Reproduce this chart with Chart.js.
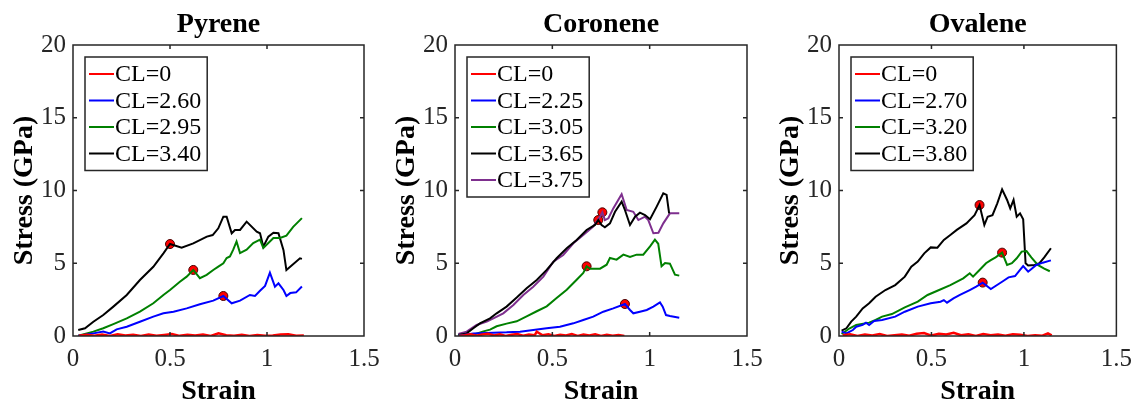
<!DOCTYPE html>
<html>
<head>
<meta charset="utf-8">
<script src="https://cdn.jsdelivr.net/npm/chart.js@4.4.1/dist/chart.umd.min.js"></script>
<style>
  html, body { margin: 0; padding: 0; background: #fff; overflow: hidden; }
  #wrap { position: relative; width: 1143px; height: 400px; }
  #wrap canvas { position: absolute; left: 0; top: 0; }
</style>
</head>
<body>
<div id="wrap">
  <canvas id="pyrene" width="1143" height="400"></canvas>
  <canvas id="coronene" width="1143" height="400"></canvas>
  <canvas id="ovalene" width="1143" height="400"></canvas>
</div>
<script>
// ---- Pyrene ----
const pyrCL0Strain = [0.03,0.07,0.11,0.15,0.19,0.23,0.27,0.31,0.35,0.39,0.43,0.47,0.51,0.55,0.59,0.63,0.67,0.71,0.75,0.79,0.83,0.87,0.91,0.95,0.99,1.03,1.07,1.11,1.15,1.19]
const pyrCL0Stress = [0.02,0.08,0.01,0.1,0.0,0.12,0.03,0.09,0.0,0.11,0.02,0.07,0.13,0.01,0.09,0.03,0.1,0.0,0.18,0.05,0.02,0.08,0.0,0.06,0.01,0.03,0.1,0.12,0.02,0.04]
const pyrCL260Strain = [0.027,0.105,0.156,0.19,0.225,0.277,0.345,0.414,0.466,0.518,0.586,0.654,0.723,0.775,0.818,0.861,0.912,0.938,0.964,0.99,1.015,1.041,1.059,1.085,1.10,1.12,1.15,1.18]
const pyrCL260Stress = [0.02,0.18,0.30,0.18,0.46,0.64,0.98,1.33,1.56,1.67,1.9,2.18,2.43,2.75,2.25,2.43,2.82,2.75,3.11,3.44,4.35,3.39,3.62,3.16,2.75,2.95,3.0,3.4]
const pyrCL295Strain = [0.027,0.105,0.156,0.208,0.277,0.345,0.414,0.466,0.5,0.551,0.586,0.62,0.654,0.689,0.723,0.749,0.775,0.792,0.809,0.826,0.843,0.861,0.895,0.929,0.964,0.981,1.007,1.033,1.067,1.10,1.135,1.18]
const pyrCL295Stress = [0.02,0.3,0.53,0.82,1.21,1.67,2.25,2.82,3.16,3.73,4.08,4.54,3.97,4.2,4.54,4.77,5.0,5.36,5.47,5.93,6.5,5.7,5.93,6.39,6.62,6.05,6.39,6.74,6.74,6.9,7.5,8.1]
const pyrCL340Strain = [0.027,0.062,0.105,0.156,0.208,0.277,0.345,0.414,0.466,0.5,0.56,0.62,0.69,0.72,0.749,0.775,0.792,0.818,0.835,0.861,0.895,0.947,0.964,0.981,1.007,1.033,1.059,1.085,1.10,1.17,1.18]
const pyrCL340Stress = [0.41,0.53,0.98,1.44,2.02,2.82,3.85,4.76,5.68,6.32,6.07,6.37,6.83,6.94,7.4,8.2,8.2,7.06,7.29,7.29,7.86,7.17,7.06,6.14,6.83,7.1,7.06,5.9,4.53,5.34,5.3]
const pyrMarkStrain = [0.5, 0.62, 0.775]
const pyrMarkStress = [6.32, 4.54, 2.75]

// ---- Coronene ----
const corCL0Strain = [0.02,0.05,0.08,0.11,0.14,0.17,0.2,0.23,0.26,0.29,0.32,0.35,0.38,0.41,0.42,0.45,0.48,0.51,0.54,0.57,0.6,0.63,0.66,0.69,0.72,0.75,0.78,0.81,0.84,0.87]
const corCL0Stress = [0.0,0.05,0.12,0.02,0.1,0.15,0.04,0.11,0.0,0.08,0.13,0.02,0.1,0.06,0.3,0.05,0.12,0.0,0.09,0.03,0.14,0.01,0.1,0.04,0.12,0.0,0.08,0.02,0.06,0.0]
const corCL225Strain = [0.017,0.094,0.197,0.265,0.334,0.402,0.471,0.539,0.608,0.659,0.71,0.762,0.813,0.873,0.899,0.916,0.95,0.985,1.019,1.053,1.067,1.084,1.104,1.152]
const corCL225Stress = [0.02,0.18,0.23,0.25,0.3,0.41,0.53,0.64,0.87,1.1,1.33,1.67,1.9,2.2,1.79,1.56,1.67,1.79,2.02,2.31,2.02,1.44,1.37,1.26]
const corCL305Strain = [0.017,0.094,0.146,0.18,0.214,0.265,0.317,0.368,0.42,0.471,0.522,0.574,0.625,0.659,0.676,0.693,0.745,0.779,0.796,0.83,0.865,0.899,0.933,0.967,1.002,1.027,1.044,1.061,1.079,1.104,1.13,1.152]
const corCL305Stress = [0.05,0.09,0.32,0.44,0.67,0.85,1.01,1.35,1.7,2.04,2.61,3.18,3.87,4.33,4.79,4.63,4.63,4.9,5.36,5.25,5.59,5.43,5.59,5.59,6.16,6.62,6.34,4.79,5.02,4.97,4.22,4.15]
const corCL365Strain = [0.017,0.06,0.094,0.128,0.18,0.214,0.265,0.317,0.368,0.42,0.471,0.522,0.574,0.625,0.676,0.719,0.736,0.753,0.77,0.796,0.822,0.856,0.873,0.899,0.925,0.95,0.976,1.002,1.036,1.07,1.087,1.10]
const corCL365Stress = [0.07,0.18,0.53,0.87,1.21,1.56,2.02,2.64,3.28,3.85,4.54,5.34,6.03,6.6,7.29,7.63,7.97,7.63,7.47,7.74,8.54,9.23,8.66,7.63,8.2,8.48,8.31,8.02,8.89,9.8,9.7,8.43]
const corCL375Strain = [0.017,0.06,0.111,0.163,0.197,0.248,0.3,0.351,0.402,0.454,0.505,0.556,0.608,0.659,0.71,0.745,0.757,0.77,0.788,0.813,0.856,0.882,0.916,0.942,0.976,0.993,1.019,1.045,1.07,1.104,1.152]
const corCL375Stress = [0.14,0.3,0.76,0.99,1.21,1.56,2.13,2.82,3.39,4.08,5.11,5.57,6.37,6.94,7.52,8.2,8.5,7.97,8.09,8.77,9.74,8.66,8.54,7.97,8.2,7.97,7.06,7.1,7.74,8.43,8.43]
const corMarkStrain = [0.736, 0.757, 0.676, 0.873]
const corMarkStress = [7.97, 8.5, 4.79, 2.2]

// ---- Ovalene ----
const ovaCL0Strain = [0.02,0.06,0.1,0.14,0.18,0.22,0.26,0.3,0.34,0.38,0.42,0.46,0.5,0.54,0.58,0.62,0.66,0.7,0.74,0.78,0.82,0.86,0.9,0.94,0.98,1.02,1.06,1.1,1.13,1.15]
const ovaCL0Stress = [0.05,0.12,0.0,0.1,0.03,0.13,0.0,0.06,0.11,0.02,0.16,0.2,0.03,0.15,0.1,0.22,0.05,0.12,0.0,0.14,0.06,0.1,0.02,0.12,0.08,0.0,0.05,0.02,0.18,0.04]
const ovaCL270Strain = [0.014,0.04,0.075,0.093,0.128,0.146,0.163,0.19,0.233,0.304,0.356,0.426,0.496,0.549,0.567,0.584,0.619,0.654,0.707,0.742,0.777,0.821,0.882,0.917,0.952,0.979,0.996,1.023,1.067,1.102,1.146]
const ovaCL270Stress = [0.3,0.18,0.41,0.64,0.76,0.92,0.76,1.03,1.1,1.33,1.67,2.02,2.25,2.36,2.47,2.29,2.59,2.82,3.16,3.39,3.67,3.23,3.73,4.03,4.12,4.54,4.81,4.42,4.88,5.04,5.2]
const ovaCL320Strain = [0.014,0.058,0.093,0.163,0.198,0.233,0.286,0.356,0.426,0.479,0.532,0.602,0.672,0.707,0.725,0.76,0.795,0.821,0.847,0.882,0.909,0.935,0.961,0.988,1.014,1.04,1.075,1.11,1.14]
const ovaCL320Stress = [0.14,0.53,0.76,0.92,1.1,1.33,1.51,1.97,2.36,2.82,3.11,3.5,3.96,4.31,4.08,4.54,5.0,5.22,5.41,5.73,4.88,5.0,5.34,5.8,5.84,5.41,4.88,4.63,4.45]
const ovaCL380Strain = [0.014,0.04,0.066,0.093,0.128,0.163,0.198,0.251,0.304,0.356,0.391,0.426,0.461,0.496,0.532,0.567,0.602,0.637,0.689,0.733,0.76,0.786,0.804,0.83,0.856,0.882,0.909,0.926,0.944,0.961,0.979,0.996,1.009,1.023,1.058,1.084,1.11,1.146]
const ovaCL380Stress = [0.37,0.53,0.99,1.33,1.9,2.25,2.7,3.16,3.5,4.08,4.77,5.11,5.68,6.09,6.07,6.6,6.94,7.29,7.74,8.31,9.0,7.63,8.2,8.31,9.12,10.08,9.35,8.77,9.35,8.2,8.43,8.02,5.0,4.84,4.88,5.0,5.4,6.03]
const ovaMarkStrain = [0.76, 0.882, 0.777]
const ovaMarkStress = [9.0, 5.73, 3.67]

const xTicks = [0, 0.5, 1, 1.5]
const yTicks = [0, 5, 10, 15, 20]

const RED = '#ff0000', BLUE = '#0000ff', GREEN = '#008000', BLACK = '#000000', PURPLE = '#7e2f8e'
const AXIS = '#262626'
const SERIF = '"Liberation Serif", "Times New Roman", serif'

const pts = (xs, ys) => xs.map((x, i) => ({ x: x, y: ys[i] }))

// box, inward ticks and the boxed legend (MATLAB look)
const frame = {
    id: 'frame',
    afterDatasetsDraw(chart) {
        const { ctx, chartArea: a, scales: { x, y } } = chart
        ctx.save()
        ctx.strokeStyle = AXIS
        ctx.lineWidth = 1.5
        ctx.beginPath()
        xTicks.slice(1, -1).forEach(v => {
            const px = x.getPixelForValue(v)
            ctx.moveTo(px, a.bottom); ctx.lineTo(px, a.bottom - 4)
            ctx.moveTo(px, a.top); ctx.lineTo(px, a.top + 4)
        })
        yTicks.slice(1, -1).forEach(v => {
            const py = y.getPixelForValue(v)
            ctx.moveTo(a.left, py); ctx.lineTo(a.left + 4, py)
            ctx.moveTo(a.right, py); ctx.lineTo(a.right - 4, py)
        })
        ctx.stroke()
        ctx.strokeRect(a.left, a.top, a.width, a.height)

        const items = chart.data.datasets.filter(d => d.label)
        ctx.font = '24px ' + SERIF
        const tw = Math.max(...items.map(d => ctx.measureText(d.label).width))
        const bx = a.left + 12, by = a.top + 12
        const bw = 31 + tw + 5, bh = 34 + 26.5 * (items.length - 1)
        ctx.fillStyle = '#fff'
        ctx.fillRect(bx, by, bw, bh)
        ctx.strokeStyle = AXIS
        ctx.strokeRect(bx, by, bw, bh)
        ctx.textBaseline = 'middle'
        ctx.textAlign = 'left'
        items.forEach((d, i) => {
            const cy = by + 17 + i * 26.5
            ctx.strokeStyle = d.borderColor
            ctx.lineWidth = 2
            ctx.beginPath()
            ctx.moveTo(bx + 4, cy); ctx.lineTo(bx + 29, cy)
            ctx.stroke()
            ctx.fillStyle = '#000'
            ctx.fillText(d.label, bx + 30, cy + 1)
        })
        ctx.restore()
    }
}

const makePanel = (id, title, plotLeft, plotRight, series, markX, markY) => {
    const datasets = series.map(s => ({
        label: s.label,
        data: pts(s.xs, s.ys),
        showLine: true,
        borderColor: s.color,
        backgroundColor: s.color,
        borderWidth: s.color === RED ? 2.5 : 2,
        pointRadius: 0,
        tension: 0
    }))
    datasets.push({
        label: '',
        data: pts(markX, markY),
        showLine: false,
        pointRadius: 4.5,
        pointBackgroundColor: RED,
        pointBorderColor: '#4a0000',
        pointBorderWidth: 1
    })

    new Chart(document.getElementById(id), {
        type: 'scatter',
        data: { datasets: datasets },
        options: {
            responsive: false,
            animation: false,
            devicePixelRatio: 1,
            layout: { padding: { left: plotLeft - 73, right: 1143 - plotRight, top: 0, bottom: 0 } },
            plugins: {
                legend: { display: false },
                tooltip: { enabled: false },
                title: {
                    display: true,
                    text: title,
                    fullSize: false,
                    color: '#000',
                    font: { family: SERIF, size: 28, weight: 'bold', lineHeight: 1 },
                    padding: { top: 11, bottom: 6 }
                }
            },
            scales: {
                x: {
                    type: 'linear',
                    min: 0,
                    max: 1.5,
                    grid: { display: false, drawTicks: false },
                    border: { display: false },
                    afterBuildTicks: s => { s.ticks = xTicks.map(v => ({ value: v })) },
                    ticks: {
                        color: AXIS, padding: 11, maxRotation: 0,
                        font: { family: SERIF, size: 25, lineHeight: 1 },
                        callback: v => String(v)
                    },
                    title: {
                        display: true,
                        text: 'Strain',
                        color: '#000',
                        font: { family: SERIF, size: 28, weight: 'bold', lineHeight: 1 },
                        padding: { top: 0, bottom: -6 }
                    },
                    afterFit: s => { s.height = 64 }
                },
                y: {
                    min: 0,
                    max: 20,
                    grid: { display: false, drawTicks: false },
                    border: { display: false },
                    afterBuildTicks: s => { s.ticks = yTicks.map(v => ({ value: v })) },
                    ticks: {
                        color: AXIS, padding: 7,
                        font: { family: SERIF, size: 25, lineHeight: 1 },
                        callback: v => String(v)
                    },
                    title: {
                        display: true,
                        text: 'Stress (GPa)',
                        color: '#000',
                        font: { family: SERIF, size: 28, weight: 'bold', lineHeight: 1 },
                        padding: { top: 11, bottom: 0 }
                    },
                    afterFit: s => { s.width = 73 }
                }
            }
        },
        plugins: [frame]
    })
}

makePanel('pyrene', 'Pyrene', 73, 364, [
    { label: 'CL=0', color: RED, xs: pyrCL0Strain, ys: pyrCL0Stress },
    { label: 'CL=2.60', color: BLUE, xs: pyrCL260Strain, ys: pyrCL260Stress },
    { label: 'CL=2.95', color: GREEN, xs: pyrCL295Strain, ys: pyrCL295Stress },
    { label: 'CL=3.40', color: BLACK, xs: pyrCL340Strain, ys: pyrCL340Stress }
], pyrMarkStrain, pyrMarkStress)

makePanel('coronene', 'Coronene', 455, 747, [
    { label: 'CL=0', color: RED, xs: corCL0Strain, ys: corCL0Stress },
    { label: 'CL=2.25', color: BLUE, xs: corCL225Strain, ys: corCL225Stress },
    { label: 'CL=3.05', color: GREEN, xs: corCL305Strain, ys: corCL305Stress },
    { label: 'CL=3.65', color: BLACK, xs: corCL365Strain, ys: corCL365Stress },
    { label: 'CL=3.75', color: PURPLE, xs: corCL375Strain, ys: corCL375Stress }
], corMarkStrain, corMarkStress)

makePanel('ovalene', 'Ovalene', 839, 1126, [
    { label: 'CL=0', color: RED, xs: ovaCL0Strain, ys: ovaCL0Stress },
    { label: 'CL=2.70', color: BLUE, xs: ovaCL270Strain, ys: ovaCL270Stress },
    { label: 'CL=3.20', color: GREEN, xs: ovaCL320Strain, ys: ovaCL320Stress },
    { label: 'CL=3.80', color: BLACK, xs: ovaCL380Strain, ys: ovaCL380Stress }
], ovaMarkStrain, ovaMarkStress)
</script>
</body>
</html>
